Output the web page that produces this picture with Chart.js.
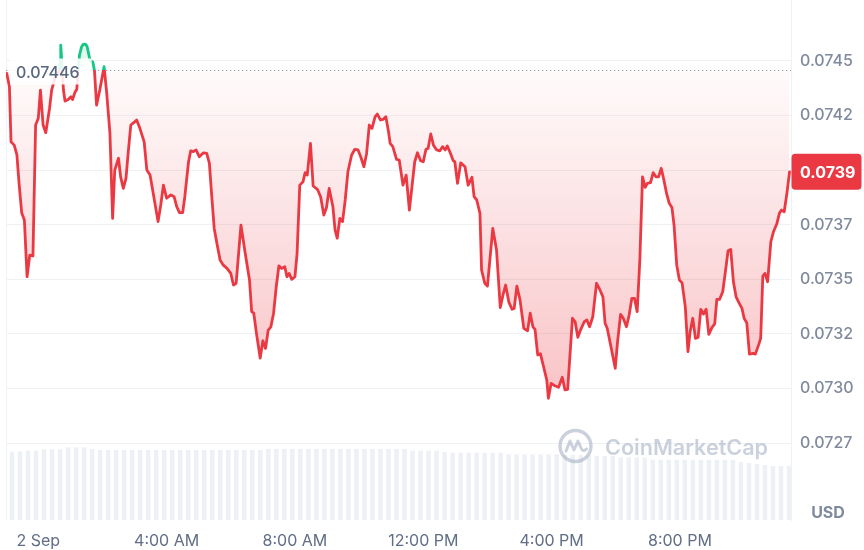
<!DOCTYPE html>
<html>
<head>
<meta charset="utf-8">
<script src="https://cdn.jsdelivr.net/npm/chart.js@4.4.1/dist/chart.umd.min.js"></script>
<style>
html,body{margin:0;padding:0;background:#fff;}
#wrap{width:864px;height:550px;position:relative;overflow:hidden;}
</style>
</head>
<body>
<div id="wrap"><canvas id="c" width="864" height="550"></canvas></div>
<script>
// minutes relative to 2 Sep 00:00
const times = [
-59,-54,-51,-45,-40,-36,-31,-26,-21,-16,
-10,-5,0,4,9,14,21,25,31,38,
41,42,44,47,50,56,61,64,69,72,
75,77,81,84,88,91,94,97,102,105,
109,115,123,128,134,139,143,150,154,159,
164,168,173,178,184,190,198,203,209,215,
224,229,234,240,248,254,259,264,270,274,
281,285,290,295,301,309,315,320,324,329,
334,340,346,353,360,365,370,379,387,395,
399,403,408,415,420,425,430,435,440,445,
450,455,461,465,469,474,480,484,489,495,
499,503,509,514,522,528,534,539,544,551,
555,559,564,569,574,579,586,592,598,603,
609,614,619,624,630,634,640,645,650,655,
658,663,670,675,682,688,694,704,709,715,
720,725,729,734,739,745,751,756,761,765,
771,776,779,784,790,798,804,811,815,820,
826,829,835,840,850,857,864,869,874,880,
886,890,895,901,908,915,920,925,929,934,
939,945,951,954,959,966,973,980,985,990,
999,1004,1009,1014,1021,1026,1031,1037,1044,1049,
1056,1060,1064,1071,1079,1083,1089,1094,1100,1105,
1110,1115,1120,1125,1130,1135,1139,1145,1150,1155,
1160,1165,1170,1175,1180,1185,1189,1194,1199,1204,
1210,1215,1219,1224,1229,1234,1239,1244,1249,1254,
1260,1265,1269,1274,1280,1285,1290,1295,1300,1305,
1311,1316,1320,1325,1330,1337,1341,1347,1351,1355,
1359,1364,1370,1375,1381,1386,1390,1395,1400,1405
];
const prices = [
0.074442,0.074381,0.074129,0.074114,0.074069,0.073940,0.073803,0.073771,0.073512,0.073611,
0.073607,0.074206,0.074237,0.074366,0.074206,0.074171,0.074282,0.074366,0.074421,0.074448,
0.074494,0.074572,0.074494,0.074366,0.074316,0.074323,0.074335,0.074323,0.074358,0.074369,
0.074467,0.074526,0.074564,0.074575,0.074576,0.074567,0.074534,0.074500,0.074494,0.074457,
0.074297,0.074366,0.074473,0.074351,0.074168,0.073779,0.074000,0.074054,0.073969,0.073916,
0.073962,0.074076,0.074206,0.074216,0.074229,0.074191,0.074129,0.074000,0.073977,0.073893,
0.073764,0.073840,0.073931,0.073871,0.073886,0.073878,0.073832,0.073805,0.073805,0.073878,
0.074038,0.074088,0.074084,0.074092,0.074061,0.074079,0.074076,0.074031,0.073893,0.073733,
0.073665,0.073588,0.073565,0.073550,0.073527,0.073474,0.073482,0.073748,0.073619,0.073497,
0.073352,0.073345,0.073253,0.073140,0.073219,0.073184,0.073268,0.073283,0.073345,0.073466,
0.073562,0.073550,0.073558,0.073512,0.073527,0.073500,0.073512,0.073619,0.073931,0.073946,
0.073988,0.073977,0.074122,0.073927,0.073912,0.073878,0.073794,0.073829,0.073916,0.073832,
0.073726,0.073688,0.073779,0.073764,0.073863,0.073992,0.074069,0.074095,0.074092,0.074061,
0.074015,0.074076,0.074206,0.074191,0.074244,0.074256,0.074229,0.074232,0.074244,0.074175,
0.074122,0.074107,0.074049,0.074046,0.073931,0.073977,0.073817,0.074038,0.074079,0.074043,
0.074038,0.074095,0.074099,0.074165,0.074114,0.074092,0.074088,0.074107,0.074092,0.074110,
0.074076,0.074043,0.074038,0.073939,0.074033,0.074015,0.073931,0.073967,0.073878,0.073863,
0.073802,0.073543,0.073482,0.073469,0.073733,0.073634,0.073371,0.073428,0.073474,0.073396,
0.073363,0.073367,0.073469,0.073405,0.073276,0.073265,0.073345,0.073283,0.073271,0.073154,
0.073160,0.073100,0.073039,0.072956,0.073024,0.073013,0.073006,0.073052,0.072994,0.072997,
0.073322,0.073306,0.073235,0.073268,0.073306,0.073314,0.073283,0.073329,0.073482,0.073459,
0.073420,0.073299,0.073276,0.073192,0.073093,0.073207,0.073340,0.073322,0.073283,0.073337,
0.073413,0.073413,0.073352,0.073588,0.073969,0.073921,0.073939,0.073942,0.073988,0.073969,
0.073969,0.074008,0.073954,0.073893,0.073848,0.073829,0.073748,0.073565,0.073497,0.073484,
0.073375,0.073169,0.073260,0.073322,0.073230,0.073235,0.073363,0.073341,0.073363,0.073248,
0.073280,0.073296,0.073408,0.073408,0.073443,0.073535,0.073631,0.073637,0.073489,0.073420,
0.073390,0.073367,0.073322,0.073301,0.073158,0.073161,0.073158,0.073199,0.073230,0.073515,
0.073527,0.073489,0.073672,0.073718,0.073753,0.073802,0.073817,0.073809,0.073893,0.073992
];
const openPrice = 0.07446;
const priceTicks = [0.07275,0.07300,0.07325,0.07350,0.07375,0.07400,0.07425,0.07450];
const xTickValues = [0,240,480,720,960,1200];
const xTickLabels = ['2 Sep','4:00 AM','8:00 AM','12:00 PM','4:00 PM','8:00 PM'];
// relative volume, one bar per 15 minutes from 23:00 (1 Sep)
const volume = [
68.3,68.5,69.5,69.5,70.7,70.7,70.7,72.5,72.5,72.5,71,
70,70,70,70,70,70,70,70,70,70,70,70,70,70,70,70,70,70,70,70,70,
71,71,71,71,71,71,71,71,71,71,71,71,71,71,71,71,71,71,
69.3,69.3,69.3,69.3,
68,
67.3,67.3,67.3,67.3,67.3,67.3,67.3,
65.7,65.7,65.7,65.7,65.7,65.7,65.7,
65,65,65,65,
64,64,64,
62.5,62.5,62.5,62.5,
60.3,60.3,60.3,60.3,60.3,60.3,60.3,60.3,60.3,60.3,60.3,
58,57,56,55,54,54,54
];
const volLabels = volume.map((_, i) => -60 + i * 15);

const RED = '#ea3943', GREEN = '#16c784';
const Y_MIN = 0.072399, Y_MAX = 0.074778;
const X_MIN = -60.4, X_MAX = 1407.7;

function strokeGrad(chart) {
  const a = chart.chartArea, y = chart.scales && chart.scales.y;
  if (!a || !y) return RED;
  const yb = y.getPixelForValue(openPrice);
  const s = Math.min(Math.max((yb - a.top) / (a.bottom - a.top), 0), 1);
  const g = chart.ctx.createLinearGradient(0, a.top, 0, a.bottom);
  g.addColorStop(0, GREEN); g.addColorStop(s, GREEN);
  g.addColorStop(s, RED); g.addColorStop(1, RED);
  return g;
}
function fillGrad(chart) {
  const a = chart.chartArea, y = chart.scales && chart.scales.y;
  if (!a || !y) return 'rgba(234,57,67,0.1)';
  const yb = y.getPixelForValue(openPrice);
  const yl = y.getPixelForValue(Math.min.apply(null, prices));
  const g = chart.ctx.createLinearGradient(0, yb, 0, yl);
  g.addColorStop(0, 'rgba(234,57,67,0.02)');
  g.addColorStop(1, 'rgba(234,57,67,0.30)');
  return g;
}

const overlay = {
  id: 'overlay',
  beforeDatasetsDraw(chart) {
    const {ctx, chartArea: a, scales: {y}} = chart;
    ctx.save();
    ctx.strokeStyle = '#eff2f5'; ctx.lineWidth = 1;
    ctx.beginPath(); ctx.moveTo(a.left + 0.5, a.top); ctx.lineTo(a.left + 0.5, a.bottom); ctx.stroke();
    const yb = Math.round(y.getPixelForValue(openPrice)) + 0.5;
    ctx.strokeStyle = '#9aa3b5'; ctx.lineWidth = 1.2; ctx.setLineDash([1.3, 2.7]);
    ctx.beginPath(); ctx.moveTo(a.left, yb); ctx.lineTo(a.right, yb); ctx.stroke();
    ctx.restore();
  },
  afterDatasetsDraw(chart) {
    const {ctx, chartArea: a, scales: {y}} = chart;
    const yb = y.getPixelForValue(openPrice);
    ctx.save();
    ctx.font = '500 16px Inter';
    const txt = openPrice.toFixed(5);
    const w = ctx.measureText(txt).width;
    ctx.fillStyle = 'rgba(255,255,255,0.88)';
    ctx.fillRect(a.left + 4, yb - 11, w + 18, 26);
    ctx.fillStyle = '#58667e';
    ctx.textBaseline = 'middle'; ctx.textAlign = 'left';
    ctx.fillText(txt, a.left + 10, yb + 3.5);
    ctx.restore();
  },
  afterDraw(chart) {
    const {ctx, chartArea: a, scales: {y}} = chart;
    ctx.save();
    // last price badge
    const last = prices[prices.length - 1];
    const yl = y.getPixelForValue(last);
    ctx.fillStyle = RED;
    ctx.beginPath();
    ctx.roundRect(a.right + 0.5, yl - 18, 70, 36, 4);
    ctx.fill();
    ctx.fillStyle = '#ffffff';
    ctx.font = '700 16px Inter';
    ctx.textBaseline = 'middle'; ctx.textAlign = 'left';
    ctx.fillText((Math.floor(last * 1e4 + 1e-6) / 1e4).toFixed(4), a.right + 9, yl + 1);
    // currency label
    ctx.fillStyle = '#808a9d';
    ctx.font = '700 16px Inter';
    ctx.textAlign = 'center';
    ctx.fillText('USD', 828, 513);
    // watermark
    const cx = 575.5, cy = 446;
    ctx.strokeStyle = 'rgba(160,171,192,0.55)';
    ctx.lineWidth = 3.4;
    ctx.beginPath(); ctx.arc(cx, cy, 15.5, 0, Math.PI * 2); ctx.stroke();
    ctx.lineWidth = 3; ctx.lineJoin = 'round'; ctx.lineCap = 'round';
    ctx.beginPath();
    ctx.moveTo(cx - 9.5, cy + 5);
    ctx.lineTo(cx - 5.5, cy - 5);
    ctx.lineTo(cx - 1.5, cy + 4);
    ctx.lineTo(cx + 2.5, cy - 5);
    ctx.lineTo(cx + 6, cy + 3);
    ctx.quadraticCurveTo(cx + 8, cy + 6, cx + 11, cy + 3);
    ctx.stroke();
    ctx.fillStyle = 'rgba(160,171,192,0.55)';
    ctx.font = '600 23px Inter';
    const mw = ctx.measureText('CoinMarketCap').width;
    const fs = 23 * 163 / mw;
    ctx.font = '600 ' + fs.toFixed(2) + 'px Inter';
    ctx.textAlign = 'left'; ctx.textBaseline = 'alphabetic';
    ctx.fillText('CoinMarketCap', 605, 455);
    ctx.restore();
  }
};

new Chart(document.getElementById('c'), {
  data: {
    datasets: [
      {
        type: 'line',
        data: times.map((t, i) => ({x: t, y: prices[i]})),
        xAxisID: 'x', yAxisID: 'y',
        borderWidth: 2.8, pointRadius: 0, tension: 0, order: 1,
        borderJoinStyle: 'round', borderCapStyle: 'round',
        borderColor: c => strokeGrad(c.chart),
        backgroundColor: c => fillGrad(c.chart),
        fill: {target: {value: openPrice}, above: 'rgba(22,199,132,0.12)'}
      },
      {
        type: 'bar',
        data: volume,
        xAxisID: 'xv', yAxisID: 'yv',
        backgroundColor: '#edf0f4', borderWidth: 0,
        barPercentage: 1.12, categoryPercentage: 1, order: 2
      }
    ]
  },
  options: {
    responsive: false, animation: false, devicePixelRatio: 1,
    layout: {padding: {left: 6, right: 0, top: 0, bottom: 0}},
    plugins: {legend: {display: false}, tooltip: {enabled: false}},
    scales: {
      x: {
        type: 'linear', position: 'bottom', min: X_MIN, max: X_MAX,
        grid: {display: false, drawTicks: false}, border: {display: false},
        afterBuildTicks: s => { s.ticks = xTickValues.map(v => ({value: v})); },
        ticks: {
          autoSkip: false, maxRotation: 0, padding: 12, color: '#616e85',
          font: {family: 'Inter', size: 16},
          callback: v => { const i = xTickValues.indexOf(v); return i >= 0 ? xTickLabels[i] : ''; }
        },
        afterFit: s => { s.height = 30; s.paddingLeft = 0; s.paddingRight = 0; }
      },
      xv: {type: 'category', labels: volLabels, display: false, offset: true, grid: {display: false}},
      y: {
        type: 'linear', position: 'right', min: Y_MIN, max: Y_MAX,
        grid: {color: '#eff2f5', drawTicks: false}, border: {display: true, color: '#eff2f5'},
        afterBuildTicks: s => { s.ticks = priceTicks.map(v => ({value: v})); },
        ticks: {
          padding: 9, color: '#808a9d', font: {family: 'Inter', size: 16, weight: '500'},
          callback: v => (Math.floor(v * 1e4 + 1e-6) / 1e4).toFixed(4)
        },
        afterFit: s => { s.width = 73; s.paddingTop = 0; s.paddingBottom = 0; }
      },
      yv: {type: 'linear', display: false, min: 0, max: 520}
    }
  },
  plugins: [overlay]
});
</script>
</body>
</html>
